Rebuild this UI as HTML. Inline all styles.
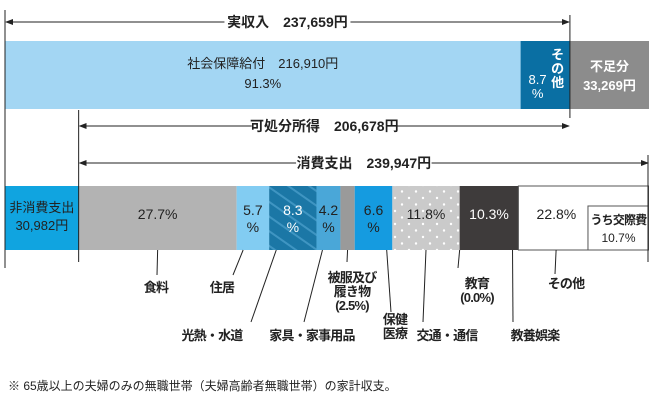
<!DOCTYPE html>
<html><head><meta charset="utf-8"><style>
body{margin:0;background:#fff;}
svg{display:block;font-family:"Liberation Sans","Noto Sans CJK JP",sans-serif;}
</style></head><body>
<svg id="c" width="656" height="403" viewBox="0 0 656 403">
<defs>
<pattern id="stripe" width="12" height="12" patternUnits="userSpaceOnUse" patternTransform="rotate(-55)">
<rect width="12" height="12" fill="#1b77a6"/><rect width="2" height="12" fill="#3f95c2"/></pattern>
<pattern id="dots" width="14" height="13" patternUnits="userSpaceOnUse">
<rect width="14" height="13" fill="#cacaca"/><circle cx="3" cy="3" r="1.2" fill="#fff"/><circle cx="10" cy="9.5" r="1.2" fill="#fff"/></pattern>
<marker id="ah" markerWidth="8" markerHeight="6" refX="7" refY="3" orient="auto"><path d="M0,0 L8,3 L0,6 z" fill="#222"/></marker>
<marker id="at" markerWidth="8" markerHeight="6" refX="1" refY="3" orient="auto"><path d="M8,0 L0,3 L8,6 z" fill="#222"/></marker>
</defs>
<g id="g"></g>
<text x="8" y="390" font-size="12" fill="#222">※ 65歳以上の夫婦のみの無職世帯（夫婦高齢者無職世帯）の家計収支。</text>
</svg>
<script>
const incomeLabels=["社会保障給付","その他","不足分"];
const incomeValues=[216910,20749,33269];
const spendLabels=["非消費支出","消費支出"];
const spendValues=[30982,239947];
const disposableIncome=206678;
const consCategories=["食料","住居","光熱・水道","家具・家事用品","被服及び履き物","保健医療","交通・通信","教育","教養娯楽","その他"];
const consPercents=[27.7,5.7,8.3,4.2,2.5,6.6,11.8,0.0,10.3,22.8];
const socialPct=91.3, otherPct=8.7, kosaiPct=10.7;

const NS="http://www.w3.org/2000/svg";
const g=document.getElementById('g');
function el(t,a,txt){const e=document.createElementNS(NS,t);for(const k in a)e.setAttribute(k,a[k]);if(txt!==undefined)e.textContent=txt;g.appendChild(e);return e;}
const X0=5,X1=649;
const total=incomeValues.reduce((a,b)=>a+b,0);
const sx=v=>v/total*(X1-X0);
const fmt=n=>n.toLocaleString('en-US');

const ty=41,th=68;
let x=X0;const tx=[];
const tfill=["#a3d6f3","#0a6fa3","#8c8c8c"];
incomeValues.forEach((v,i)=>{const w=sx(v);let r=el('rect',{x:x,y:ty,width:w,height:th,fill:tfill[i]});

tx.push([x,w]);x+=w;});
const realEnd=tx[1][0]+tx[1][1];
function txt(x,y,s,o){o=o||{};const t=el('text',{x:x,y:y,'font-size':o.fs||13,'text-anchor':o.a||'middle',fill:o.fill||'#222','font-weight':o.fw||'normal','letter-spacing':o.ls||0},s);

return t;}
txt(tx[0][0]+tx[0][1]/2,68,incomeLabels[0]+"　"+fmt(incomeValues[0])+"円",{name:'social-label'});
txt(tx[0][0]+tx[0][1]/2,88,socialPct+"%",{name:'social-pct'});
const ox=tx[1][0];
txt(ox+37,59,"そ",{fill:'#fff',fw:'bold',name:'other-label'});
txt(ox+37,73,"の",{fill:'#fff',fw:'bold',name:'other-label'});
txt(ox+37,87,"他",{fill:'#fff',fw:'bold',name:'other-label'});
txt(ox+17,84,otherPct,{fill:'#fff',name:'other-pct'});
txt(ox+17,98,"%",{fill:'#fff',name:'other-pct'});
txt(tx[2][0]+tx[2][1]/2,71,incomeLabels[2],{fill:'#fff',fw:'bold',name:'shortfall-label'});
txt(tx[2][0]+tx[2][1]/2,90,fmt(incomeValues[2])+"円",{fill:'#fff',fw:'bold',name:'shortfall-value'});

const by=186,bh=64;
const nonW=sx(spendValues[0]);
const consX=X0+nonW,consW=sx(spendValues[1]);
let r=el('rect',{x:X0,y:by,width:nonW,height:bh,fill:'#10a4e0'});


txt(X0+nonW/2,212,spendLabels[0],{name:'non-consumption-label'});
txt(X0+nonW/2,230,fmt(spendValues[0])+"円",{name:'non-consumption-value'});
const cfill=["#b3b3b3","#82ccf2","url(#stripe)","#4aa7d8","#9a9a9a","#159be0","url(#dots)","#fff","#3e3b3b","#fff"];
const cx=[];x=consX;
consPercents.forEach((p,i)=>{const w=p/100*consW;let rr=el('rect',{x:x,y:by,width:w,height:bh,fill:cfill[i]});

cx.push([x,w]);x+=w;});
let ob=el('rect',{x:cx[9][0],y:by,width:X1-cx[9][0]-0.5,height:bh,fill:'none',stroke:'#555','stroke-width':1});


const kw=kosaiPct/100*consW;
let kb=el('rect',{x:X1-kw,y:206,width:kw-0.5,height:44,fill:'#fff',stroke:'#555','stroke-width':1});


txt(X1-kw/2,224,"うち交際費",{fs:12,fw:'bold',ls:-0.8,name:'kosai-label'});
txt(X1-kw/2,242,kosaiPct+"%",{fs:12,name:'kosai-pct'});
const mid=i=>cx[i][0]+cx[i][1]/2;
const pct=consPercents.map(p=>p.toFixed(1));
txt(mid(0),219,pct[0]+"%",{fs:14,name:'food-pct'});
[1,2,3,5].forEach(i=>{const f=i==2?'#fff':'#222';txt(mid(i),215,pct[i],{fs:14,fill:f,name:'pct'});txt(mid(i),232,"%",{fs:14,fill:f,name:'pct'});});
txt(mid(6),219,pct[6]+"%",{fs:14,name:'transport-pct'});
txt(mid(8),219,pct[8]+"%",{fs:14,fill:'#fff',name:'culture-pct'});
txt(cx[9][0]+38,219,pct[9]+"%",{fs:14,name:'other-cons-pct'});

function line(x1,y1,x2,y2,n,m){const l=el('line',{x1:x1,y1:y1,x2:x2,y2:y2,stroke:'#222','stroke-width':1});
if(m){l.setAttribute('marker-start','url(#at)');l.setAttribute('marker-end','url(#ah)');}

return l;}
line(X0,10,X0,268,'left-guide');
line(realEnd,15,realEnd,118,'real-income-guide');
line(consX,110,consX,262,'consumption-guide');
line(X1-1,155,X1-1,262,'right-guide');
function arrow(x1,x2,y,label,n){line(x1+1,y,x2-1,y,n,true);
const w=label.length*9.5+12;const m=(x1+x2)/2;let b=el('rect',{x:m-w/2,y:y-9,width:w,height:18,fill:'#fff'});


txt(m,y+5,label,{fs:14,fw:'bold',name:n+'-label'});}
arrow(X0,realEnd,22,"実収入　"+fmt(incomeValues[0]+incomeValues[1])+"円",'real-income-arrow');
arrow(consX,realEnd,126,"可処分所得　"+fmt(disposableIncome)+"円",'disposable-arrow');
arrow(consX,X1,163,spendLabels[1]+"　"+fmt(spendValues[1])+"円",'consumption-arrow');

// callouts: [index, bar x offset from segment start (fraction), line end x, line end y, text center x, lines, first baseline]
const callouts=[
[0,0.5,157,275,156,["食料"],292],
[1,0.2,233,275,222,["住居"],292],
[2,0.15,251,322,212,["光熱・水道"],340],
[3,0.25,304,322,312,["家具・家事用品"],340],
[4,0.5,347,262,352,["被服及び","履き物","(2.5%)"],282],
[5,0.85,391,312,395,["保健","医療"],324],
[6,0.5,423,322,447,["交通・通信"],340],
[7,0,458,268,477,["教育","(0.0%)"],288],
[8,0.9,513,322,535,["教養娯楽"],340],
[9,0.29,555,274,566,["その他"],288]];
callouts.forEach(c=>{const i=c[0];const s0=cx[i][0]+cx[i][1]*c[1];
line(s0,by+bh,c[2],c[3],'callout-line-'+i);
c[5].forEach((s,k)=>txt(c[4],c[6]+k*14,s,{fs:13,fw:'bold',ls:-0.8,name:'category-label'}));});
</script>
</body></html>
